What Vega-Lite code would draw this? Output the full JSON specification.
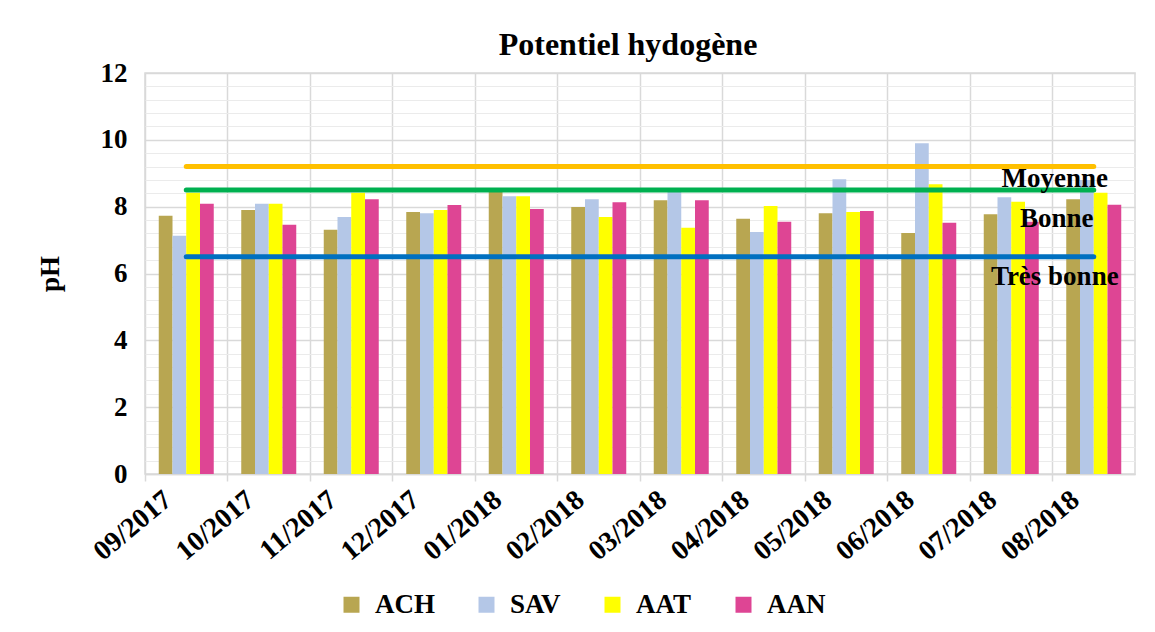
{
  "$schema": "https://vega.github.io/schema/vega-lite/v6.json",
  "width": 990,
  "height": 401,
  "autosize": {"type": "none"},
  "padding": {"left": 145, "top": 73, "right": 20, "bottom": 158},
  "background": "white",
  "title": {
    "text": "Potentiel hydogène",
    "font": "Liberation Serif",
    "fontSize": 32,
    "fontWeight": "bold",
    "color": "black",
    "anchor": "middle",
    "dx": -12,
    "offset": -3
  },
  "config": {
    "view": {"stroke": "#D9D9D9", "strokeWidth": 1.5},
    "font": "Liberation Serif"
  },
  "datasets": {
    "ph": [
      {"mois": "09/2017", "station": "ACH", "pH": 7.73},
      {"mois": "09/2017", "station": "SAV", "pH": 7.13},
      {"mois": "09/2017", "station": "AAT", "pH": 8.42},
      {"mois": "09/2017", "station": "AAN", "pH": 8.09},
      {"mois": "10/2017", "station": "ACH", "pH": 7.90},
      {"mois": "10/2017", "station": "SAV", "pH": 8.09},
      {"mois": "10/2017", "station": "AAT", "pH": 8.09},
      {"mois": "10/2017", "station": "AAN", "pH": 7.46},
      {"mois": "11/2017", "station": "ACH", "pH": 7.31},
      {"mois": "11/2017", "station": "SAV", "pH": 7.69},
      {"mois": "11/2017", "station": "AAT", "pH": 8.42},
      {"mois": "11/2017", "station": "AAN", "pH": 8.22},
      {"mois": "12/2017", "station": "ACH", "pH": 7.84},
      {"mois": "12/2017", "station": "SAV", "pH": 7.80},
      {"mois": "12/2017", "station": "AAT", "pH": 7.90},
      {"mois": "12/2017", "station": "AAN", "pH": 8.05},
      {"mois": "01/2018", "station": "ACH", "pH": 8.48},
      {"mois": "01/2018", "station": "SAV", "pH": 8.31},
      {"mois": "01/2018", "station": "AAT", "pH": 8.31},
      {"mois": "01/2018", "station": "AAN", "pH": 7.93},
      {"mois": "02/2018", "station": "ACH", "pH": 7.99},
      {"mois": "02/2018", "station": "SAV", "pH": 8.22},
      {"mois": "02/2018", "station": "AAT", "pH": 7.69},
      {"mois": "02/2018", "station": "AAN", "pH": 8.13},
      {"mois": "03/2018", "station": "ACH", "pH": 8.19},
      {"mois": "03/2018", "station": "SAV", "pH": 8.48},
      {"mois": "03/2018", "station": "AAT", "pH": 7.37},
      {"mois": "03/2018", "station": "AAN", "pH": 8.19},
      {"mois": "04/2018", "station": "ACH", "pH": 7.64},
      {"mois": "04/2018", "station": "SAV", "pH": 7.24},
      {"mois": "04/2018", "station": "AAT", "pH": 8.02},
      {"mois": "04/2018", "station": "AAN", "pH": 7.55},
      {"mois": "05/2018", "station": "ACH", "pH": 7.80},
      {"mois": "05/2018", "station": "SAV", "pH": 8.82},
      {"mois": "05/2018", "station": "AAT", "pH": 7.84},
      {"mois": "05/2018", "station": "AAN", "pH": 7.87},
      {"mois": "06/2018", "station": "ACH", "pH": 7.21},
      {"mois": "06/2018", "station": "SAV", "pH": 9.90},
      {"mois": "06/2018", "station": "AAT", "pH": 8.67},
      {"mois": "06/2018", "station": "AAN", "pH": 7.52},
      {"mois": "07/2018", "station": "ACH", "pH": 7.77},
      {"mois": "07/2018", "station": "SAV", "pH": 8.28},
      {"mois": "07/2018", "station": "AAT", "pH": 8.15},
      {"mois": "07/2018", "station": "AAN", "pH": 7.55},
      {"mois": "08/2018", "station": "ACH", "pH": 8.22},
      {"mois": "08/2018", "station": "SAV", "pH": 8.80},
      {"mois": "08/2018", "station": "AAT", "pH": 8.42},
      {"mois": "08/2018", "station": "AAN", "pH": 8.06}
    ],
    "seuils": [
      {"mois": "09/2017", "classe": "Moyenne", "pH": 9.2},
      {"mois": "08/2018", "classe": "Moyenne", "pH": 9.2},
      {"mois": "09/2017", "classe": "Bonne", "pH": 8.5},
      {"mois": "08/2018", "classe": "Bonne", "pH": 8.5},
      {"mois": "09/2017", "classe": "Très bonne", "pH": 6.5},
      {"mois": "08/2018", "classe": "Très bonne", "pH": 6.5}
    ]
  },
  "layer": [
    {
      "data": {"name": "ph"},
      "mark": {"type": "bar"},
      "encoding": {
        "x": {
          "field": "mois",
          "type": "nominal",
          "sort": null,
          "scale": {
            "domain": ["09/2017", "10/2017", "11/2017", "12/2017", "01/2018", "02/2018", "03/2018", "04/2018", "05/2018", "06/2018", "07/2018", "08/2018"],
            "paddingInner": 0,
            "paddingOuter": 0
          },
          "axis": {
            "title": null,
            "orient": "bottom",
            "grid": false,
            "ticks": false,
            "domain": true,
            "domainColor": "#D9D9D9",
            "domainWidth": 1.5,
            "labelAngle": -40,
            "labelAlign": "right",
            "labelBaseline": "middle",
            "labelPadding": 22,
            "labelOffset": -18,
            "labelFont": "Liberation Serif",
            "labelFontSize": 28,
            "labelFontWeight": "bold",
            "labelColor": "black"
          }
        },
        "xOffset": {
          "field": "station",
          "type": "nominal",
          "sort": ["ACH", "SAV", "AAT", "AAN"],
          "scale": {"paddingInner": 0, "paddingOuter": 1.125}
        },
        "y": {
          "field": "pH",
          "type": "quantitative",
          "scale": {"domain": [0, 12], "nice": false},
          "axis": {
            "title": "pH",
            "orient": "left",
            "values": [0, 2, 4, 6, 8, 10, 12],
            "grid": true,
            "gridColor": "#D9D9D9",
            "gridWidth": 1.5,
            "domain": false,
            "ticks": false,
            "labelPadding": 18,
            "labelFont": "Liberation Serif",
            "labelFontSize": 27,
            "labelFontWeight": "bold",
            "labelColor": "black",
            "titleFont": "Liberation Serif",
            "titleFontSize": 27,
            "titleFontWeight": "bold",
            "titleColor": "black",
            "titlePadding": 36
          }
        },
        "color": {
          "field": "station",
          "type": "nominal",
          "sort": ["ACH", "SAV", "AAT", "AAN"],
          "scale": {
            "domain": ["ACH", "SAV", "AAT", "AAN"],
            "range": ["#B8A651", "#B4C7E7", "#FFFF00", "#DE4594"]
          },
          "legend": {
            "title": null,
            "orient": "none",
            "legendX": 193,
            "legendY": 518,
            "direction": "horizontal",
            "symbolType": "square",
            "symbolSize": 256,
            "symbolStrokeWidth": 0,
            "symbolOpacity": 1,
            "labelFont": "Liberation Serif",
            "labelFontSize": 27,
            "labelFontWeight": "bold",
            "labelColor": "black",
            "labelOffset": 10,
            "columnPadding": 38,
            "padding": 0
          }
        }
      }
    },
    {
      "data": {"name": "seuils"},
      "mark": {"type": "line", "strokeWidth": 5, "strokeCap": "round"},
      "encoding": {
        "x": {
          "field": "mois",
          "type": "nominal",
          "sort": null,
          "axis": {
            "title": null,
            "orient": "bottom",
            "bandPosition": 0,
            "grid": true,
            "gridColor": "#D9D9D9",
            "gridWidth": 1.5,
            "ticks": true,
            "tickColor": "#D9D9D9",
            "tickWidth": 1.5,
            "tickSize": 7,
            "labels": false,
            "domain": false
          }
        },
        "y": {
          "field": "pH",
          "type": "quantitative",
          "axis": {
            "title": null,
            "orient": "left",
            "values": [0.4, 0.8, 1.2, 1.6, 2.4, 2.8, 3.2, 3.6, 4.4, 4.8, 5.2, 5.6, 6.4, 6.8, 7.2, 7.6, 8.4, 8.8, 9.2, 9.6, 10.4, 10.8, 11.2, 11.6],
            "grid": true,
            "gridColor": "#EBEBEB",
            "gridWidth": 1,
            "labels": false,
            "ticks": false,
            "domain": false
          }
        },
        "detail": {"field": "classe", "type": "nominal"},
        "stroke": {
          "field": "classe",
          "type": "nominal",
          "scale": {
            "domain": ["Moyenne", "Bonne", "Très bonne"],
            "range": ["#FFC000", "#00B050", "#0070C0"]
          },
          "legend": null
        }
      }
    },
    {
      "data": {"name": "seuils"},
      "transform": [{"filter": "datum.mois == '08/2018' && datum.classe == 'Moyenne'"}],
      "mark": {"type": "text", "dx": -39, "dy": 20, "align": "center", "baseline": "alphabetic", "font": "Liberation Serif", "fontSize": 27, "fontWeight": "bold", "color": "black"},
      "encoding": {
        "x": {"field": "mois", "type": "nominal", "sort": null, "axis": null},
        "y": {"field": "pH", "type": "quantitative", "axis": null},
        "text": {"field": "classe", "type": "nominal"}
      }
    },
    {
      "data": {"name": "seuils"},
      "transform": [{"filter": "datum.mois == '08/2018' && datum.classe == 'Bonne'"}],
      "mark": {"type": "text", "dx": -37, "dy": 37, "align": "center", "baseline": "alphabetic", "font": "Liberation Serif", "fontSize": 27, "fontWeight": "bold", "color": "black"},
      "encoding": {
        "x": {"field": "mois", "type": "nominal", "sort": null, "axis": null},
        "y": {"field": "pH", "type": "quantitative", "axis": null},
        "text": {"field": "classe", "type": "nominal"}
      }
    },
    {
      "data": {"name": "seuils"},
      "transform": [{"filter": "datum.mois == '08/2018' && datum.classe == 'Très bonne'"}],
      "mark": {"type": "text", "dx": -39, "dy": 28, "align": "center", "baseline": "alphabetic", "font": "Liberation Serif", "fontSize": 27, "fontWeight": "bold", "color": "black"},
      "encoding": {
        "x": {"field": "mois", "type": "nominal", "sort": null, "axis": null},
        "y": {"field": "pH", "type": "quantitative", "axis": null},
        "text": {"field": "classe", "type": "nominal"}
      }
    }
  ],
  "resolve": {"axis": {"x": "independent", "y": "independent"}}
}
